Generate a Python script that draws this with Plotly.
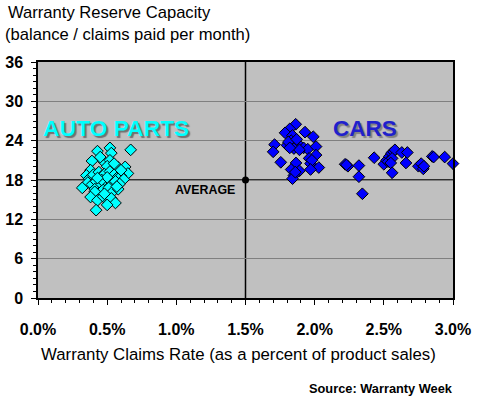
import plotly.graph_objects as go

# Auto parts: claims rate (%) and reserve capacity (months)
auto_x = [0.43, 0.52, 0.53, 0.67, 0.39, 0.47, 0.52, 0.50, 0.58, 0.63, 0.65, 0.38, 0.35, 0.37,
          0.40, 0.44, 0.46, 0.48, 0.52, 0.55, 0.57, 0.60, 0.62, 0.36, 0.39, 0.42, 0.45, 0.49,
          0.53, 0.56, 0.59, 0.32, 0.41, 0.44, 0.47, 0.51, 0.54, 0.58, 0.41, 0.38, 0.43, 0.47,
          0.51, 0.53, 0.56, 0.50, 0.42, 0.46, 0.50, 0.43, 0.55, 0.45, 0.60, 0.48, 0.57]
auto_y = [22.4, 22.9, 22.1, 22.6, 20.9, 20.9, 21.0, 20.1, 19.9, 20.0, 19.0, 19.5, 18.7, 18.2,
          18.8, 19.2, 18.6, 18.9, 19.3, 18.8, 18.3, 18.6, 18.1, 17.6, 17.3, 17.8, 17.2, 17.7,
          17.3, 17.8, 17.4, 16.8, 16.6, 16.0, 16.5, 16.8, 16.2, 16.6, 16.2, 15.4, 14.9, 15.5,
          14.7, 15.2, 14.5, 14.2, 13.4, 18.0, 18.4, 18.3, 20.5, 21.5, 19.5, 15.9, 17.0]

# Cars
cars_x = [1.863, 1.82, 1.786, 1.93, 1.84, 1.99, 1.71, 1.70, 1.80, 1.83, 1.86, 1.88, 1.90, 1.92,
          1.95, 1.85, 1.81, 1.87, 1.89, 1.82, 2.01, 2.01, 1.96, 1.97, 1.98, 1.755, 1.865, 2.03,
          1.97, 1.83, 1.89, 1.85, 1.84, 1.86,
          2.22, 2.24, 2.23, 2.32, 2.32, 2.345, 2.43, 2.50, 2.52, 2.54, 2.555, 2.57, 2.58, 2.53,
          2.56, 2.55, 2.56, 2.63, 2.67, 2.66, 2.75, 2.77, 2.785, 2.79, 2.85, 2.86, 2.94, 3.0]
cars_y = [26.5, 25.8, 25.2, 25.3, 24.8, 24.6, 23.4, 22.3, 23.3, 24.0, 23.6, 23.3, 23.1, 22.9,
          22.7, 22.8, 23.8, 24.2, 22.6, 22.9, 23.1, 21.8, 21.3, 20.5, 21.0, 20.7, 20.6, 19.9,
          19.6, 19.6, 19.4, 18.7, 18.2, 19.2,
          20.4, 20.1, 20.3, 20.2, 18.5, 15.9, 21.4, 20.4, 21.0, 21.6, 22.1, 22.3, 22.6, 20.8,
          21.3, 20.6, 19.1, 22.2, 22.2, 20.6, 20.1, 20.5, 19.7, 20.1, 21.6, 21.5, 21.5, 20.5]

avg_x = [1.5]
avg_y = [18]

x_ticks = [0.0, 0.5, 1.0, 1.5, 2.0, 2.5, 3.0]
y_ticks = [0, 6, 12, 18, 24, 30, 36]

FONT = "Arial, Liberation Sans, sans-serif"

fig = go.Figure()
fig.add_trace(go.Scatter(x=auto_x, y=auto_y, mode="markers", cliponaxis=False,
                         marker=dict(symbol="diamond", size=9, color="#00FFFF",
                                     line=dict(color="black", width=1))))
fig.add_trace(go.Scatter(x=cars_x, y=cars_y, mode="markers", cliponaxis=False,
                         marker=dict(symbol="diamond", size=9, color="#0000FF",
                                     line=dict(color="black", width=1))))
fig.add_trace(go.Scatter(x=avg_x, y=avg_y, mode="markers", cliponaxis=False,
                         marker=dict(symbol="circle", size=7, color="black")))

fig.add_hline(y=avg_y[0], line=dict(color="black", width=1.5), layer="below")
fig.add_vline(x=avg_x[0], line=dict(color="black", width=1.5), layer="below")

fig.update_layout(
    width=480, height=400,
    margin=dict(l=38, r=27, t=62, b=102),
    paper_bgcolor="white", plot_bgcolor="#C0C0C0",
    showlegend=False,
    font=dict(family=FONT, color="black"),
    xaxis=dict(range=[0, 3], tickvals=x_ticks, automargin=False,
               ticktext=[f"{v:.1f}%" for v in x_ticks],
               showgrid=False, zeroline=False,
               showline=True, linecolor="black", linewidth=1.5, mirror=True,
               ticks="outside", ticklen=5, tickcolor="black",
               minor=dict(dtick=0.1, ticks="outside", ticklen=3, tickcolor="black"),
               tickfont=dict(size=16, family=FONT, weight="bold"),
               ticklabelstandoff=11),
    yaxis=dict(range=[0, 36], tickvals=y_ticks, automargin=False,
               showgrid=True, gridcolor="#808080", gridwidth=1, zeroline=False,
               showline=True, linecolor="black", linewidth=1.5, mirror=True,
               ticks="outside", ticklen=5, tickcolor="black",
               minor=dict(dtick=1, ticks="outside", ticklen=3, tickcolor="black", showgrid=False),
               tickfont=dict(size=16, family=FONT, weight="bold"),
               ticklabelstandoff=5),
)

ann = [
    dict(text="Warranty Reserve Capacity", xref="paper", yref="paper",
         x=(6 - 38) / 415, y=(298 - 12) / 236.5, xanchor="left", yanchor="middle",
         showarrow=False, font=dict(size=16.6, family=FONT)),
    dict(text="(balance / claims paid per month)", xref="paper", yref="paper",
         x=(3 - 38) / 415, y=(298 - 34) / 236.5, xanchor="left", yanchor="middle",
         showarrow=False, font=dict(size=16.6, family=FONT)),
    dict(text="Warranty Claims Rate (as a percent of product sales)", xref="paper", yref="paper",
         x=(238 - 38) / 415, y=(298 - 355) / 236.5, xanchor="center", yanchor="middle",
         showarrow=False, font=dict(size=16.8, family=FONT)),
    dict(text="Source: Warranty Week", xref="paper", yref="paper",
         x=(455 - 38) / 415, y=(298 - 389) / 236.5, xanchor="right", yanchor="middle",
         showarrow=False, font=dict(size=12.8, family=FONT, weight="bold")),
    dict(text="AUTO PARTS", x=0.565, y=25.9, xanchor="center", yanchor="middle",
         showarrow=False,
         font=dict(size=22.8, family=FONT, weight="bold", color="#00FFFF",
                   shadow="2px 2px 1px #707070")),
    dict(text="CARS", x=2.364, y=25.9, xanchor="center", yanchor="middle",
         showarrow=False,
         font=dict(size=22.5, family=FONT, weight="bold", color="#2020CC",
                   shadow="2px 2px 1px #808080")),
    dict(text="AVERAGE", x=1.207, y=16.4, xanchor="center", yanchor="middle",
         showarrow=False, font=dict(size=12.4, family=FONT, weight="bold")),
]
fig.update_layout(annotations=ann)

# remove the browser's default 8px body margin so the figure fills the window
fig.write_html("out.html", config={"displayModeBar": False},
               post_script="document.body.style.margin='0px';")
